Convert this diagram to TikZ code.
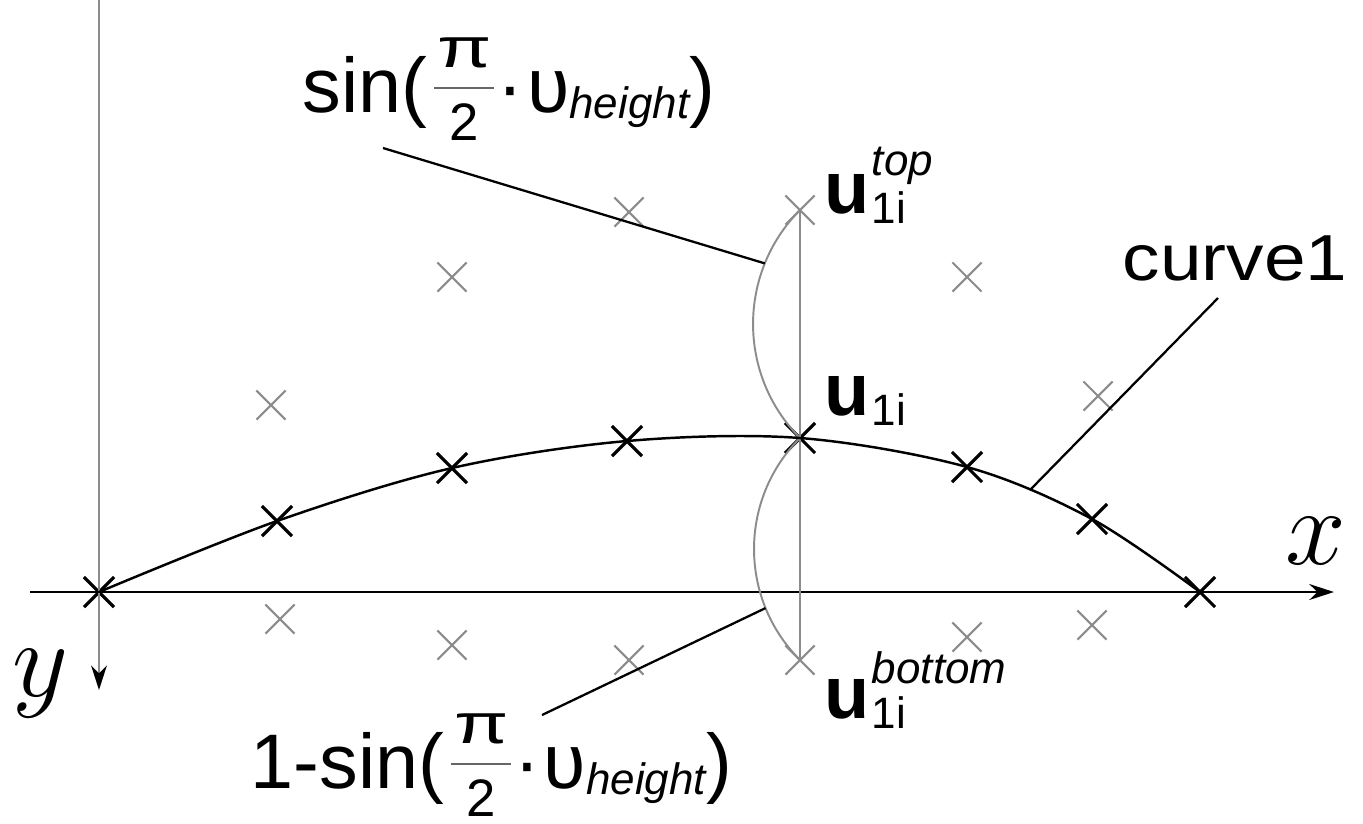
\RequirePackage{fix-cm}
\documentclass[tikz,border=0pt]{standalone}
\usepackage{graphicx}
\usepackage{fontspec}
\setmainfont{Liberation Sans}
\usetikzlibrary{shapes.misc,arrows.meta}
\newcommand{\pifrac}{\kern2pt\rlap{\raisebox{0.235cm}{\textcolor{black!60}{\rule{0.6cm}{0.55pt}}}}\rlap{\makebox[0.6cm]{\raisebox{0.44cm}{\scalebox{1.4}[1]{\fontsize{16}{16}\selectfont π}}}}\makebox[0.6cm]{\raisebox{-0.28cm}{\fontsize{15}{15}\selectfont 2}}\kern1pt}
\newcommand{\sinform}{sin(\pifrac·\kern1pt υ\raisebox{-0.6mm}{\fontsize{12.5}{12.5}\selectfont\itshape height})}
\newcommand{\ulab}[2]{{\fontsize{21}{21}\selectfont\bfseries u}\kern0.6pt{\fontsize{12.5}{12.5}\selectfont\rlap{\raisebox{#1}{\itshape #2}}\raisebox{-1mm}{1i}}}
\begin{document}
\begin{tikzpicture}[x=0.01cm,y=-0.01cm,
  crossk/.style={cross out,draw=black,line width=0.9pt,minimum size=0.27cm,inner sep=0pt},
  crossg/.style={cross out,draw=black!45,line width=0.6pt,minimum size=0.27cm,inner sep=0pt},
  axisx/.style={draw=black,line width=0.8pt,-{Stealth[length=7pt,width=4.5pt]}},
  axisy/.style={draw=black!45,line width=0.6pt,-{Stealth[length=7pt,width=4.5pt,color=black]}},
  grayline/.style={draw=black!45,line width=0.55pt},
  curvestyle/.style={draw=black,line width=0.7pt},
  leader/.style={draw=black,line width=0.65pt},
  lab/.style={inner sep=0pt,anchor=base west,font=\fontsize{22}{22}\selectfont},
  ulabel/.style={inner sep=0pt,anchor=base west}]
\useasboundingbox (0,0) rectangle (1363,823);
\fill[white] (0,0) rectangle (1363,823);
% points on curve1
\node[crossk] (k1) at (99,592) {};
\node[crossk] (k2) at (277,521) {};
\node[crossk] (k3) at (452,468) {};
\node[crossk] (k4) at (627,441) {};
\node[crossk] (k5) at (800,438) {};
\node[crossk] (k6) at (967,467) {};
\node[crossk] (k7) at (1092,519) {};
\node[crossk] (k8) at (1200,592) {};
% gray points above
\node[crossg] (t1) at (271,405) {};
\node[crossg] (t2) at (452,277) {};
\node[crossg] (t3) at (629,212) {};
\node[crossg] (t4) at (800,210) {};
\node[crossg] (t5) at (967,277) {};
\node[crossg] (t6) at (1098,396) {};
% gray points below
\node[crossg] (b1) at (280,619) {};
\node[crossg] (b2) at (452,645) {};
\node[crossg] (b3) at (629,660) {};
\node[crossg] (b4) at (800,660) {};
\node[crossg] (b5) at (967,637) {};
\node[crossg] (b6) at (1092,625) {};
% axes
\coordinate (xs) at (30,592);
\coordinate (xe) at (1334,592);
\coordinate (ys) at (99,0);
\coordinate (ye) at (99,690);
\draw[axisy] (ys) -- (ye);
\draw[axisx] (xs) -- (xe);
% vertical gray line and arcs
\draw[grayline] (t4.center) -- (b4.center);
\draw[grayline] (t4.center) .. controls +(-62.6,63.1) and +(-62.6,-63.1) .. (k5.center) coordinate[pos=0.25] (ta);
\draw[grayline] (k5.center) .. controls +(-61.3,61.3) and +(-61.3,-61.3) .. (b4.center) coordinate[pos=0.75] (ba);
% curve1
\draw[curvestyle] plot[smooth,tension=0.55] coordinates {(k1.center) (k2.center) (k3.center) (k4.center) (k5.center) (k6.center) (k7.center) (k8.center)};
% labels
\node[lab] (ftop) at (302,112) {\sinform};
\node[lab] (fbot) at (250,788) {1-\sinform};
\node[inner sep=0pt,anchor=base west] (c1lab) at (1122,280) {\scalebox{1.15}[1]{\fontsize{18.5}{18.5}\selectfont curve1}};
\node[ulabel] (utop) at (824,213) {\ulab{3.7mm}{top}};
\node[ulabel] (umid) at (824,415) {\ulab{3.7mm}{}};
\node[ulabel] (ubot) at (824,718) {\ulab{3.5mm}{bottom}};
\node[inner sep=0pt] (xlab) at (1316,541) {\fontsize{31}{31}\selectfont$x$};
\node[inner sep=0pt] (ylab) at (40,684) {\fontsize{31}{31}\selectfont$y$};
% leaders
\coordinate (ltop) at (383,148);
\coordinate (lbot) at (542,715);
\coordinate (kc) at (1030,490);
\coordinate (lc) at (1218,298);
\draw[leader] (ltop) -- (ta);
\draw[leader] (lbot) -- (ba);
\draw[leader] (kc) -- (lc);
\end{tikzpicture}
\end{document}
